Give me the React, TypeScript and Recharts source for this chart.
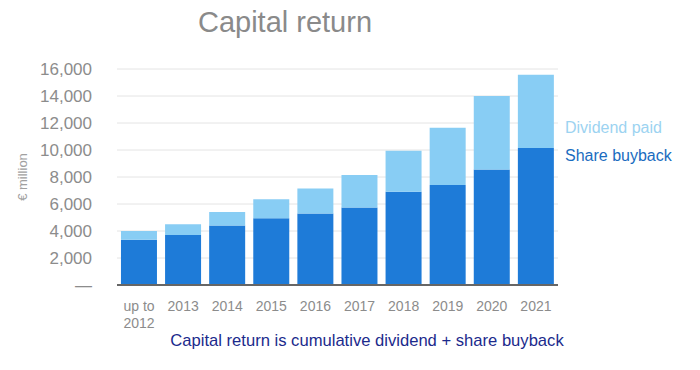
import { BarChart, Bar, XAxis, YAxis, CartesianGrid, Legend, Label } from 'recharts';

const categories = ['up to\n2012', '2013', '2014', '2015', '2016', '2017', '2018', '2019', '2020', '2021'];
const shareBuyback = [3350, 3700, 4400, 4950, 5300, 5750, 6900, 7400, 8550, 10150];
const dividendPaid = [650, 800, 1000, 1400, 1850, 2400, 3050, 4250, 5450, 5430];
const yTicks = [0, 2000, 4000, 6000, 8000, 10000, 12000, 14000, 16000];

const data = categories.map((name, i) => ({
  name,
  buyback: shareBuyback[i],
  dividend: dividendPaid[i],
}));

const FONT = '"Liberation Sans", Arial, sans-serif';

const XTick = ({ x, y, payload }: any) => {
  const lines = String(payload.value).split('\n');
  return (
    <text x={x} y={y} textAnchor="middle" fill="#8c8c8c" fontSize={14} fontFamily={FONT}>
      {lines.map((l, i) => (
        <tspan key={i} x={x} dy={i === 0 ? '0.71em' : '1.2em'}>
          {l}
        </tspan>
      ))}
    </text>
  );
};

const LegendBox = () => (
  <div style={{ fontFamily: FONT, fontSize: 16, lineHeight: '28px' }}>
    <div style={{ color: '#9cd3f1' }}>Dividend paid</div>
    <div style={{ color: '#1a6cc0' }}>Share buyback</div>
  </div>
);

const App = () => {
  return (
    <div style={{ position: 'absolute', left: 0, top: 0, width: 700, height: 370, fontFamily: FONT, background: '#fff' }}>
      <div
        style={{
          position: 'absolute',
          left: 0,
          top: 6,
          width: 570,
          textAlign: 'center',
          fontSize: 29,
          color: '#8a8a8a',
        }}
      >
        Capital return
      </div>
      <BarChart
        width={700}
        height={370}
        data={data}
        margin={{ top: 69, right: 142, left: 0, bottom: 45 }}
        barCategoryGap="9%"
      >
        <CartesianGrid vertical={false} stroke="#e4e4e4" />
        <XAxis
          dataKey="name"
          tick={<XTick />}
          tickLine={false}
          tickSize={6}
          tickMargin={10}
          axisLine={{ stroke: '#666', strokeWidth: 2 }}
          interval={0}
          height={40}
        />
        <YAxis
          width={117}
          domain={[0, 16000]}
          ticks={yTicks}
          interval={0}
          axisLine={false}
          tickLine={false}
          tickSize={6}
          tickMargin={19}
          tick={{ fill: '#8c8c8c', fontSize: 17, fontFamily: FONT }}
          tickFormatter={(v: number) => (v === 0 ? '—' : v.toLocaleString('en-US'))}
        >
          <Label
            content={({ viewBox }: any) => {
              const cy = viewBox.y + viewBox.height / 2;
              return (
                <text
                  x={22}
                  y={cy}
                  transform={`rotate(-90 22 ${cy})`}
                  textAnchor="middle"
                  dominantBaseline="central"
                  fill="#a0a0a0"
                  fontSize={13}
                  fontFamily={FONT}
                >
                  € million
                </text>
              );
            }}
          />
        </YAxis>
        <Legend
          layout="horizontal"
          verticalAlign="middle"
          align="center"
          content={<LegendBox />}
          wrapperStyle={{ position: 'absolute', left: 565, top: 114, width: 130, right: 'auto', bottom: 'auto' }}
        />
        <Bar dataKey="buyback" stackId="a" fill="#1e7bd8" isAnimationActive={false} name="Share buyback" />
        <Bar dataKey="dividend" stackId="a" fill="#88cdf4" isAnimationActive={false} name="Dividend paid" />
      </BarChart>
      <div
        style={{
          position: 'absolute',
          left: 0,
          top: 331,
          width: 734,
          textAlign: 'center',
          fontSize: 16.6,
          color: '#1b2a8c',
        }}
      >
        Capital return is cumulative dividend + share buyback
      </div>
    </div>
  );
};

export default App;
